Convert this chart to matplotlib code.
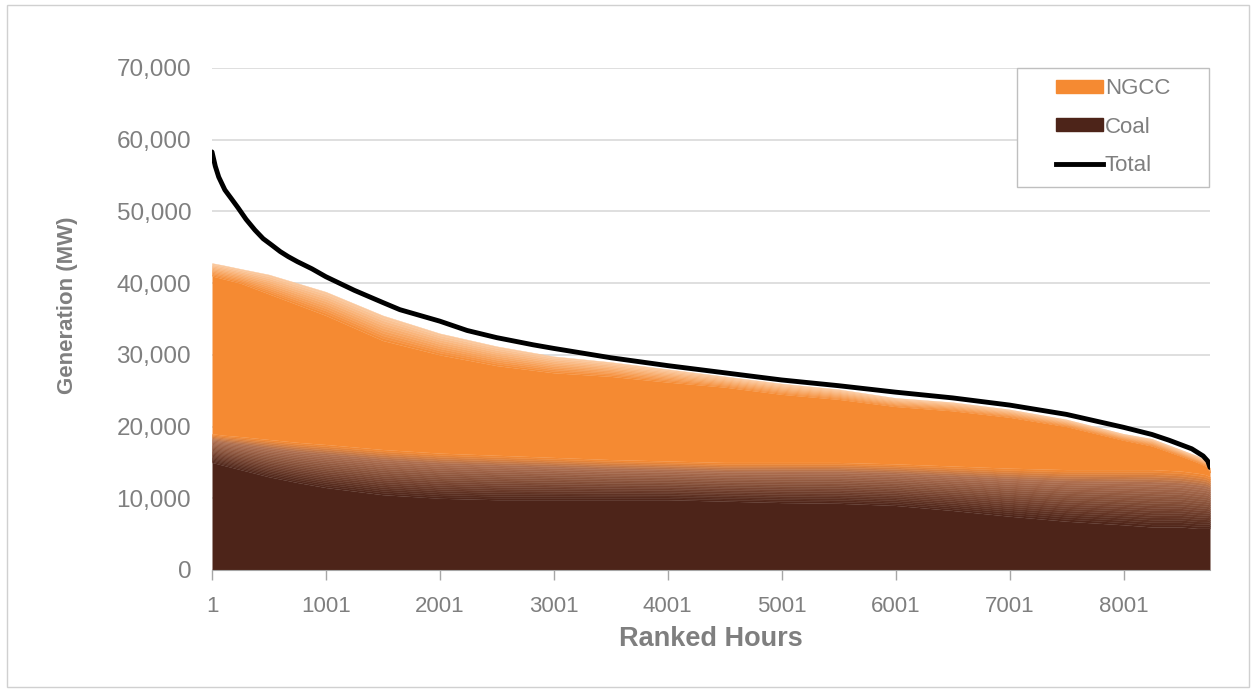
import numpy as np
import matplotlib
matplotlib.use('Agg')
import matplotlib.pyplot as plt
import matplotlib.colors as mcolors
from matplotlib.patches import Patch, Rectangle
from matplotlib.lines import Line2D

plt.rcParams['font.family'] = ['Liberation Sans', 'DejaVu Sans']

line_hours = [1, 30, 60, 114, 170, 230, 300, 378, 450, 526, 600, 670, 750,
              878, 1000, 1250, 1500, 1650, 2000, 2240, 2500, 2820, 3000,
              3500, 4000, 4500, 5000, 5500, 6000, 6500, 7000, 7500, 8000,
              8250, 8400, 8500, 8600, 8650, 8700, 8740, 8760]
total = [58300, 56300, 54800, 53000, 51800, 50500, 48900, 47400, 46200,
         45300, 44400, 43700, 43000, 42000, 40900, 39000, 37300, 36300,
         34700, 33400, 32400, 31400, 30900, 29600, 28500, 27500, 26500,
         25700, 24800, 24000, 23000, 21700, 19900, 18900, 18100, 17500,
         16900, 16400, 15900, 15200, 14300]

hours = [1, 100, 250, 500, 750, 1000, 1500, 2000, 2500, 3000, 3500, 4000,
         4500, 5000, 5500, 6000, 6500, 7000, 7500, 8000, 8250, 8500, 8650,
         8720, 8760]

# coal + NGCC stack: dense lower edge of the spiky top and its peaks
stack_lo = [41000, 40600, 40000, 38500, 37000, 35500, 32000, 30000, 28500,
            27500, 27000, 26200, 25500, 24500, 23800, 22800, 22200, 21300,
            20000, 18100, 17300, 15900, 15000, 14500, 13600]
stack_hi = [42800, 42500, 42000, 41200, 40000, 38800, 35500, 33000, 31200,
            29800, 29000, 28000, 27000, 26000, 25200, 24000, 23400, 22400,
            21000, 19000, 18300, 16800, 15900, 15300, 14200]

# coal: solid part and the tops of its spikes
coal_lo = [15000, 14600, 14000, 13000, 12200, 11500, 10500, 10000, 9800,
           9800, 9800, 9800, 9600, 9400, 9300, 9000, 8300, 7500, 6800, 6300,
           6000, 6000, 5800, 5800, 5800]
coal_hi = [19000, 18800, 18600, 18200, 17800, 17500, 16800, 16300, 16000,
           15700, 15400, 15200, 15000, 15000, 15000, 14800, 14500, 14200,
           14000, 14000, 14000, 13800, 13500, 13300, 13000]

xticks = [1, 1001, 2001, 3001, 4001, 5001, 6001, 7001, 8001]

ORANGE = '#F58A32'
BROWN = '#4D2419'
GREY = '#7F7F7F'


def blend(c1, c2, t):
    a = np.array(mcolors.to_rgb(c1))
    b = np.array(mcolors.to_rgb(c2))
    return tuple(a + (b - a) * t)


def band(ax, x, lo, hi, colors):
    # fuzzy edge drawn as thin layers stepping from one colour to the next
    lo = np.asarray(lo, float)
    hi = np.asarray(hi, float)
    n = len(colors)
    for i, c in enumerate(colors):
        a = lo + (hi - lo) * i / n
        b = lo + (hi - lo) * (i + 1) / n
        ax.fill_between(x, a, b, color=c, lw=0.3, edgecolor=c)


fig = plt.figure(figsize=(12.55, 6.92), dpi=100)
ax = fig.add_axes([212 / 1255, 1 - 570 / 692, 998 / 1255, 502 / 692])

# coal
ax.fill_between(hours, 0, coal_lo, color=BROWN, lw=0)
steps = np.linspace(0.02, 0.98, 24)
coal_cols = [blend(BROWN, '#B07050', t / 0.78) if t < 0.78
             else blend('#B07050', ORANGE, (t - 0.78) / 0.22) for t in steps]
band(ax, hours, coal_lo, coal_hi, coal_cols)
# NGCC
ax.fill_between(hours, coal_hi, stack_lo, color=ORANGE, lw=0)
top_cols = [blend(ORANGE, '#FBD3B0', t) for t in np.linspace(0.05, 0.85, 10)]
band(ax, hours, stack_lo, stack_hi, top_cols)
# total
ax.plot(line_hours, total, color='black', lw=3.5, solid_capstyle='round', zorder=5)

ax.set_xlim(1, 8760)
ax.set_ylim(0, 70000)
ax.set_yticks(np.arange(0, 70001, 10000))
ax.yaxis.set_major_formatter(matplotlib.ticker.FuncFormatter(lambda v, p: '{:,.0f}'.format(v)))
ax.set_xticks(xticks)
ax.set_xticklabels([str(t) for t in xticks])
ax.grid(axis='y', color='#D9D9D9', lw=1.2)
ax.set_axisbelow(True)
for s in ['top', 'right', 'left']:
    ax.spines[s].set_visible(False)
ax.spines['bottom'].set_color('#A6A6A6')
ax.tick_params(axis='x', colors='#A6A6A6', length=7, width=1, direction='out',
               labelcolor=GREY, labelsize=16, pad=12)
ax.tick_params(axis='y', length=0, labelcolor=GREY, labelsize=17.5, pad=15)
ax.set_xlabel('Ranked Hours', fontsize=19.5, fontweight='bold', color=GREY, labelpad=6)
ax.set_ylabel('Generation (MW)', fontsize=16, fontweight='bold', color=GREY)
ax.yaxis.set_label_coords(-0.134, 0.528)

# legend box drawn by hand so it can be as wide as in the original
box = Rectangle((1017 / 1255, 1 - 187 / 692), 192 / 1255, 119 / 692,
                transform=fig.transFigure, facecolor='white',
                edgecolor='#BFBFBF', lw=1, zorder=9)
fig.patches.append(box)
handles = [Patch(color=ORANGE), Patch(color=BROWN),
           Line2D([], [], color='black', lw=3.5)]
leg = fig.legend(handles, ['NGCC', 'Coal', 'Total'], loc='center',
                 bbox_to_anchor=(1113 / 1255, 1 - 127 / 692), fontsize=16,
                 frameon=False, handlelength=2.1, handleheight=0.55,
                 handletextpad=0.1, labelspacing=0.78, borderpad=0)
for t in leg.get_texts():
    t.set_color(GREY)
leg.set_zorder(10)

# thin frame around the whole chart
fig.patches.append(Rectangle((7 / 1255, 5 / 692), 1242 / 1255, 682 / 692,
                             transform=fig.transFigure, fill=False,
                             edgecolor='#D0D0D0', lw=1))

fig.savefig('out.png', dpi=100)
